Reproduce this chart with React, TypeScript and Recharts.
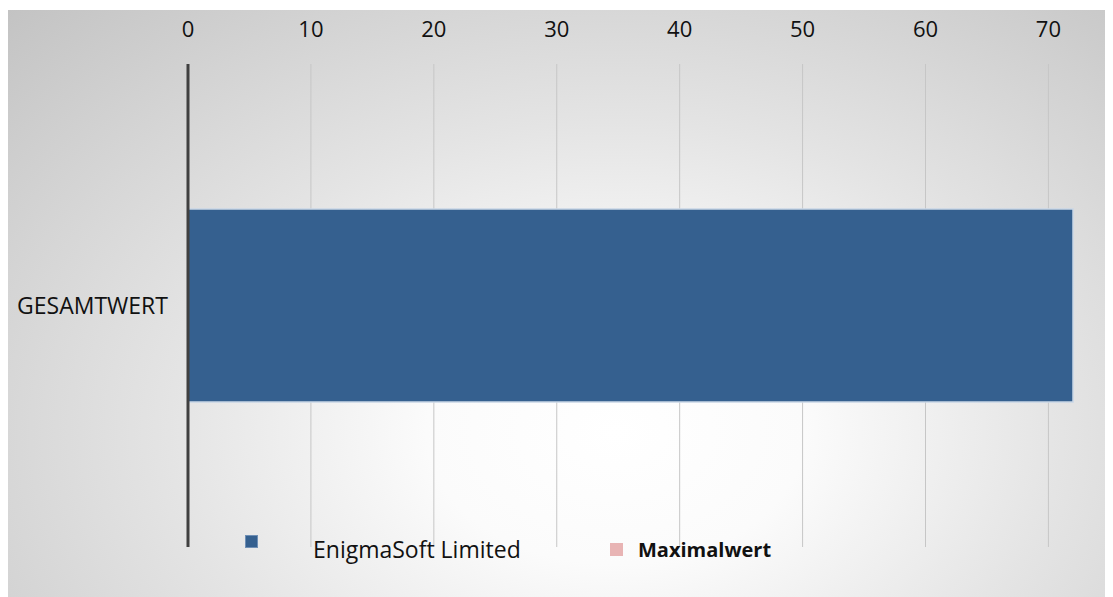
import { BarChart, Bar, XAxis, YAxis, ReferenceLine, Legend } from 'recharts';

// Single category, one scored series plus the reference series shown only in the legend
const categories = ['GESAMTWERT'];
const enigmaValues = [72];
const xTicks = [0, 10, 20, 30, 40, 50, 60, 70];

const seriesNames = ['EnigmaSoft Limited', 'Maximalwert'];
const seriesColors = ['#35608f', '#e8b4b4'];

const data = categories.map((name, i) => ({
  name,
  enigma: enigmaValues[i],
}));

const FONT = '"Open Sans", "Liberation Sans", sans-serif';
const W = 1105;
const H = 587;

const LegendContent = () => (
  <div style={{ position: 'relative', width: W, height: 40, fontFamily: FONT }}>
    {/* EnigmaSoft Limited */}
    <div
      style={{
        position: 'absolute',
        left: 237,
        top: 5,
        width: 13,
        height: 13,
        background: seriesColors[0],
        border: '1px solid #6f8fb5',
        boxSizing: 'border-box',
      }}
    />
    <div
      style={{
        position: 'absolute',
        left: 305,
        top: 4,
        fontSize: 23,
        lineHeight: '31px',
        color: '#111',
      }}
    >
      {seriesNames[0]}
    </div>
    {/* Maximalwert */}
    <div
      style={{
        position: 'absolute',
        left: 602,
        top: 13,
        width: 13,
        height: 13,
        background: seriesColors[1],
      }}
    />
    <div
      style={{
        position: 'absolute',
        left: 630,
        top: 6,
        fontSize: 20,
        fontWeight: 700,
        lineHeight: '28px',
        color: '#111',
      }}
    >
      {seriesNames[1]}
    </div>
  </div>
);

export default function App() {
  return (
    <div
      style={{
        width: W,
        height: H,
        marginTop: 2,
        background:
          'radial-gradient(ellipse farthest-corner at 55% 72%, #ffffff 0%, #fbfbfb 22%, #e4e4e4 52%, #c3c3c3 100%)',
      }}
    >
      <BarChart
        width={W}
        height={H}
        data={data}
        layout="vertical"
        margin={{ top: 0, right: 40, bottom: 50, left: 0 }}
        barCategoryGap="30%"
      >
        <XAxis
          type="number"
          orientation="top"
          domain={[0, 72]}
          ticks={xTicks}
          height={54}
          axisLine={false}
          tickLine={false}
          tickMargin={21}
          tick={{ fontSize: 22, fill: '#111', fontFamily: FONT }}
        />
        <YAxis
          type="category"
          dataKey="name"
          width={180}
          axisLine={{ stroke: '#404040', strokeWidth: 3 }}
          tickLine={false}
          tickMargin={14}
          tick={{ fontSize: 23, fill: '#111', fontFamily: FONT }}
        />
        {/* vertical gridlines at the labelled ticks only, kept behind the bar */}
        {xTicks.slice(1).map((t) => (
          <ReferenceLine key={t} x={t} stroke="#c6c6c6" strokeWidth={1} {...({ zIndex: -50 } as any)} />
        ))}
        <Bar
          dataKey="enigma"
          name={seriesNames[0]}
          fill={seriesColors[0]}
          stroke="#c9d6e6"
          strokeWidth={1.5}
          isAnimationActive={false}
        />
        <Legend
          layout="vertical"
          align="center"
          verticalAlign="middle"
          wrapperStyle={{ left: 0, top: 520, width: W }}
          content={<LegendContent />}
        />
      </BarChart>
    </div>
  );
}
